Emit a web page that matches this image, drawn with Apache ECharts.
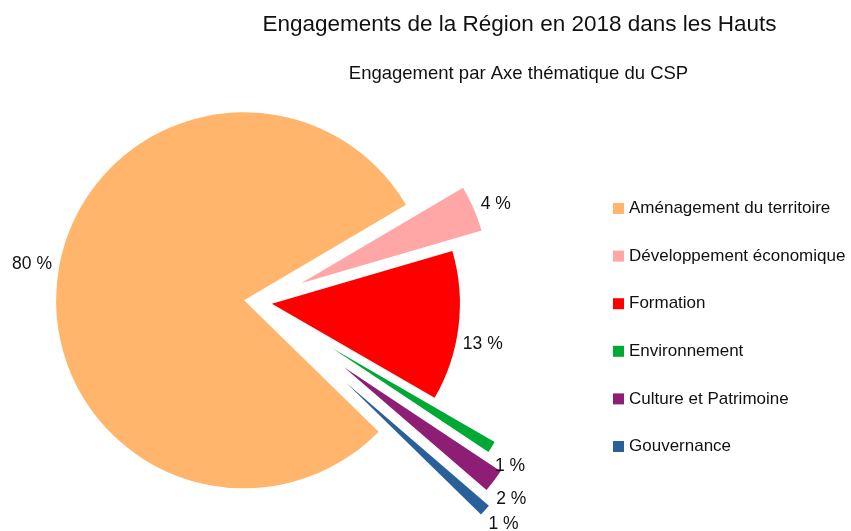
<!DOCTYPE html>
<html>
<head>
<meta charset="utf-8">
<script src="https://cdn.jsdelivr.net/npm/echarts@6/dist/echarts.min.js"></script>
<style>
  html, body { margin: 0; padding: 0; background: #fff; }
  #chart { width: 851px; height: 531px; }
</style>
</head>
<body>
<div id="chart"></div>
<script>
// Engagements by CSP theme, in percent
const categories = [
  'Aménagement du territoire',
  'Développement économique',
  'Formation',
  'Environnement',
  'Culture et Patrimoine',
  'Gouvernance'
];
const shares = [80, 4, 13, 1, 2, 1];

const mainTitle = 'Engagements de la Région en 2018 dans les Hauts';
const subTitle = 'Engagement par Axe thématique du CSP';

// styling
const palette = ['#FFB66C', '#FFA6A6', '#FF0000', '#00A933', '#8D1D75', '#2A6099'];
// how far each sector is pulled away from the centre (px)
const explode = [14, 47, 14, 87, 108, 120];
// [dx, dy] nudge for each value label, away from the end of its arc
const labelShift = [[-5.5, -13.5], [7, -4.7], [4.3, 18.3], [3.3, 19], [2.4, 18.8], [3.5, 14.2]];

const FONT = '"Liberation Sans", Arial, sans-serif';
const TEXT = '#111';

// One pie per sector: every pie shares the same values (so the angles come
// from the full data), only sector k is painted and pulled out by its own offset.
function sectorSeries(k) {
  return {
    type: 'pie',
    center: [258, 302],
    radius: 188,
    startAngle: -44.3,
    clockwise: true,
    selectedMode: 'multiple',
    selectedOffset: explode[k],
    avoidLabelOverlap: false,
    silent: true,
    emphasis: { disabled: true },
    labelLine: { show: false, length: 0, length2: 0 },
    label: {
      position: 'outside',
      formatter: '{c} %',
      fontFamily: FONT,
      fontSize: 17.5,
      color: TEXT,
      distanceToLabelLine: 0
    },
    labelLayout: { dx: labelShift[k][0], dy: labelShift[k][1], hideOverlap: false, moveOverlap: null },
    select: { itemStyle: { borderWidth: 0 } },
    data: shares.map((v, i) => ({
      name: categories[i],
      value: v,
      selected: i === k,
      itemStyle: { color: i === k ? palette[i] : 'rgba(0,0,0,0)', borderWidth: 0 },
      label: { show: i === k }
    }))
  };
}

const chart = echarts.init(document.getElementById('chart'), null, { renderer: 'canvas' });
chart.setOption({
  animation: false,
  backgroundColor: '#ffffff',
  title: [
    {
      text: mainTitle, left: 519.5, top: 13, padding: 0,
      textAlign: 'center', textVerticalAlign: 'top',
      textStyle: { fontFamily: FONT, fontSize: 22.5, fontWeight: 'normal', color: TEXT }
    },
    {
      text: subTitle, left: 518.5, top: 64.5, padding: 0,
      textAlign: 'center', textVerticalAlign: 'top',
      textStyle: { fontFamily: FONT, fontSize: 18.5, fontWeight: 'normal', color: TEXT }
    }
  ],
  legend: {
    orient: 'vertical',
    left: 613,
    top: 200,
    padding: 0,
    icon: 'rect',
    itemWidth: 11,
    itemHeight: 11,
    itemGap: 30.6,
    selectedMode: false,
    textStyle: { fontFamily: FONT, fontSize: 17, color: TEXT },
    data: categories.map((n, i) => ({ name: n, itemStyle: { color: palette[i] } }))
  },
  series: categories.map((_, k) => sectorSeries(k))
});
</script>
</body>
</html>
